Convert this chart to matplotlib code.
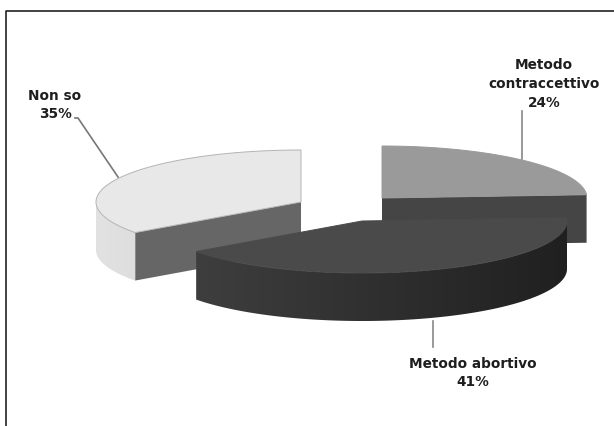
import numpy as np
import matplotlib
matplotlib.use('Agg')
import matplotlib.pyplot as plt
from matplotlib.patches import Polygon

labels = ['Metodo\ncontraccettivo\n24%', 'Metodo abortivo\n41%', 'Non so\n35%']
values = [24, 41, 35]
top_colors = ['#9a9a9a', '#4a4a4a', '#e8e8e8']
edge_colors = ['#9a9a9a', '#4a4a4a', '#b4b4b4']
cut_colors = ['#454545', '#3d3d3d', '#666666']
side_light = ['#555555', '#3e3e3e', '#e2e2e2']
side_dark = ['#333333', '#202020', '#dedede']

# exploded slice apexes in pixels, pie drawn clockwise from 12 o'clock
centers = [(382, 199), (362, 222), (301, 203)]
layers = [2, 4, 3]
rx, ry = 205, 52
depth = 48

plt.rcParams['font.family'] = ['DejaVu Sans']
fig = plt.figure(figsize=(6.14, 4.27), dpi=100)
ax = fig.add_axes([0, 0, 1, 1])
ax.set_xlim(0, 614)
ax.set_ylim(427, 0)
ax.axis('off')

# frame, only the left and top sides show
ax.plot([6, 6, 614], [427, 12, 12], color='#222222', lw=1.2)


def arc(cx, cy, a, b, n=200):
    t = np.radians(np.linspace(a, b, n))
    return cx + rx*np.cos(t), cy - ry*np.sin(t)


def draw_slice(i, a_start, a_end):
    cx, cy = centers[i]
    x, y = arc(cx, cy, a_start, a_end)

    # cut faces, only the ones turned towards the viewer
    for ang, px, py, turn in [(a_start, x[0], y[0], -90), (a_end, x[-1], y[-1], 90)]:
        if np.sin(np.radians(ang + turn)) < 0:
            ax.add_patch(Polygon([(cx, cy), (px, py), (px, py + depth), (cx, cy + depth)],
                                 fc=cut_colors[i], ec='none', zorder=layers[i]))

    # outer wall with a left to right gradient
    front = y >= cy
    if front.any():
        fx, fy = x[front], y[front]
        wall = Polygon(np.column_stack([np.r_[fx, fx[::-1]], np.r_[fy, fy[::-1] + depth]]),
                       fc='none', ec='none', transform=ax.transData)
        ax.add_patch(wall)
        grad = np.linspace(0, 1, 256).reshape(1, -1)
        cmap = matplotlib.colors.LinearSegmentedColormap.from_list('wall', [side_light[i], side_dark[i]])
        im = ax.imshow(grad, cmap=cmap, extent=[fx.min(), fx.max(), fy.max() + depth, fy.min()],
                       aspect='auto', zorder=layers[i])
        im.set_clip_path(wall)

    # top face
    ax.add_patch(Polygon(np.column_stack([np.r_[cx, x], np.r_[cy, y]]), fc=top_colors[i],
                         ec=edge_colors[i], lw=0.7, zorder=layers[i]))


# slices run clockwise from the top
start = 90.0
for i, v in enumerate(values):
    sweep = v / sum(values) * 360
    draw_slice(i, start - sweep, start)
    start -= sweep

ax.set_xlim(0, 614)
ax.set_ylim(427, 0)

# leader lines
ax.plot([522, 522], [112, 160], color='#888888', lw=1.2, zorder=6)
ax.plot([433, 433], [322, 348], color='#888888', lw=1.2, zorder=6)
ax.plot([75, 78, 118], [119, 119, 178], color='#777777', lw=1.2, zorder=6)

text_pos = [(544, 84), (473, 373), (55, 105)]
for lab, (tx, ty) in zip(labels, text_pos):
    ax.text(tx, ty, lab, ha='center', va='center', fontsize=9.8, fontweight='bold',
            color='#1e1e1e', linespacing=1.42, zorder=7)

fig.savefig('out.png', dpi=100)
